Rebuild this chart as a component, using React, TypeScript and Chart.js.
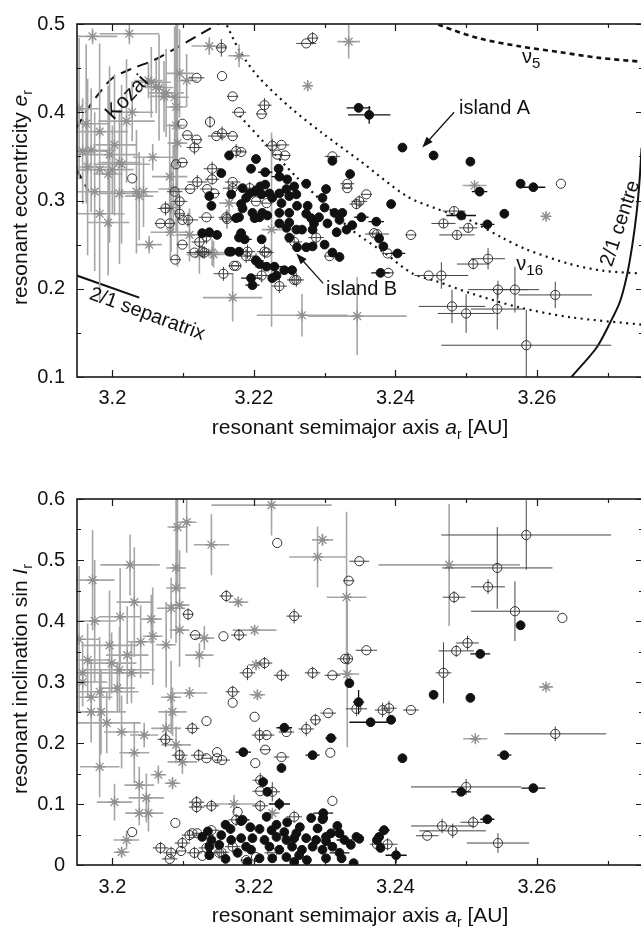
import React, { useEffect, useRef } from 'react';
import { Chart, registerables } from 'chart.js';
Chart.register(...registerables);

// ---------------- axis ticks ----------------
const xTicks = [3.2, 3.22, 3.24, 3.26];
const xTickLabels = ['3.2', '3.22', '3.24', '3.26'];
const xMinorTicks = [3.2, 3.21, 3.22, 3.23, 3.24, 3.25, 3.26, 3.27];
const eTicks = [0.1, 0.2, 0.3, 0.4, 0.5];
const eTickLabels = ['0.1', '0.2', '0.3', '0.4', '0.5'];
const eMinorTicks = [0.1, 0.15, 0.2, 0.25, 0.3, 0.35, 0.4, 0.45, 0.5];
const iTicks = [0, 0.1, 0.2, 0.3, 0.4, 0.5, 0.6];
const iTickLabels = ['0', '0.1', '0.2', '0.3', '0.4', '0.5', '0.6'];
const iMinorTicks = [0, 0.05, 0.1, 0.15, 0.2, 0.25, 0.3, 0.35, 0.4, 0.45, 0.5, 0.55, 0.6];

// ---------------- curves (top panel) ----------------
const kozaiA = [3.1949, 3.1965, 3.1982, 3.2000, 3.2028, 3.2057, 3.2090, 3.2123, 3.2158];
const kozaiE = [0.3816, 0.4036, 0.4222, 0.4386, 0.4496, 0.4584, 0.4726, 0.4879, 0.5040];
const kozaiLowA = [3.1949, 3.1957, 3.1966];
const kozaiLowE = [0.336, 0.324, 0.311];
const nu5A = [3.2450, 3.2462, 3.2519, 3.2575, 3.2632, 3.2688, 3.2752];
const nu5E = [0.5050, 0.4989, 0.4836, 0.4748, 0.4682, 0.4616, 0.4570];
const nu16UpA = [3.2158, 3.2180, 3.2208, 3.2254, 3.2297, 3.2349, 3.2416, 3.2458, 3.2505, 3.2551, 3.2585, 3.2646, 3.2693, 3.2752];
const nu16UpE = [0.5050, 0.4693, 0.4386, 0.4036, 0.3762, 0.3455, 0.3049, 0.2907, 0.2775, 0.2578, 0.2447, 0.2282, 0.2205, 0.2170];
const nu16LowA = [3.2180, 3.2215, 3.2260, 3.2293, 3.2335, 3.2387, 3.2424, 3.2458, 3.2505, 3.2575, 3.2646, 3.2752];
const nu16LowE = [0.3959, 0.3652, 0.3268, 0.3016, 0.2688, 0.2392, 0.2173, 0.2085, 0.1953, 0.1789, 0.1679, 0.1590];
const centreA = [3.2645, 3.2649, 3.2684, 3.2702, 3.2717, 3.2727, 3.2735, 3.2741, 3.2745, 3.2748];
const centreE = [0.095, 0.1, 0.1329, 0.1592, 0.1844, 0.2140, 0.2501, 0.2863, 0.3214, 0.3597];
const sepA = [3.1949, 3.2038];
const sepE = [0.2151, 0.1899];

// ---------------- top panel points: [a, e, da, de] ----------------
const topStars = [
  [3.1972, 0.486, 0.0035, 0.009], [3.2024, 0.489, 0.0042, 0.012], [3.2137, 0.475, 0.0025, 0.010],
  [3.2179, 0.464, 0.0015, 0.013], [3.2276, 0.430, 0.0007, 0.006], [3.2095, 0.444, 0.0020, 0.050],
  [3.2105, 0.436, 0.0015, 0.030], [3.2055, 0.434, 0.0028, 0.040], [3.2066, 0.428, 0.0020, 0.060],
  [3.2076, 0.422, 0.0025, 0.050], [3.2088, 0.417, 0.0020, 0.080], [3.2028, 0.400, 0.0030, 0.033],
  [3.2020, 0.390, 0.0040, 0.070], [3.1982, 0.378, 0.0040, 0.100], [3.1963, 0.387, 0.0030, 0.090],
  [3.1958, 0.356, 0.0035, 0.060], [3.2003, 0.363, 0.0030, 0.080], [3.1996, 0.352, 0.0042, 0.100],
  [3.2057, 0.349, 0.0028, 0.015], [3.2010, 0.343, 0.0030, 0.060], [3.2000, 0.335, 0.0030, 0.050],
  [3.1965, 0.338, 0.0028, 0.100], [3.1982, 0.335, 0.0040, 0.080], [3.2034, 0.310, 0.0025, 0.070],
  [3.2038, 0.305, 0.0020, 0.050], [3.2090, 0.406, 0.0014, 0.100], [3.2090, 0.385, 0.0014, 0.120],
  [3.2092, 0.365, 0.0014, 0.140], [3.2081, 0.327, 0.0025, 0.060], [3.1970, 0.357, 0.0035, 0.070],
  [3.2013, 0.341, 0.0040, 0.090], [3.1994, 0.330, 0.0021, 0.100], [3.2010, 0.308, 0.0028, 0.080],
  [3.2044, 0.310, 0.0021, 0.040], [3.1982, 0.285, 0.0035, 0.100], [3.1994, 0.275, 0.0030, 0.060],
  [3.2052, 0.250, 0.0018, 0.010], [3.2073, 0.418, 0.0020, 0.040], [3.2062, 0.429, 0.0014, 0.030],
  [3.2051, 0.436, 0.0020, 0.020], [3.2086, 0.313, 0.0021, 0.050], [3.2083, 0.292, 0.0014, 0.050],
  [3.2082, 0.264, 0.0028, 0.030], [3.2143, 0.239, 0.0020, 0.015], [3.2109, 0.261, 0.0020, 0.030],
  [3.2123, 0.239, 0.0018, 0.022], [3.2141, 0.241, 0.0020, 0.015], [3.2170, 0.190, 0.0042, 0.027],
  [3.2268, 0.170, 0.0064, 0.024], [3.2346, 0.169, 0.0070, 0.044], [3.2225, 0.267, 0.0014, 0.110],
  [3.2334, 0.480, 0.0016, 0.019], [3.2512, 0.317, 0.0017, 0.004], [3.2613, 0.282, 0.0007, 0.004],
  [3.1953, 0.404, 0.0030, 0.080], [3.1975, 0.310, 0.0030, 0.090], [3.2165, 0.297, 0.0014, 0.020],
];

const topOpen = [
  [3.2154, 0.473, 0.0008, 0.010], [3.2274, 0.478, 0.0014, 0], [3.2283, 0.484, 0.0008, 0.007],
  [3.2119, 0.439, 0.0011, 0], [3.2155, 0.441, 0, 0], [3.2170, 0.418, 0.0008, 0],
  [3.2179, 0.400, 0.0010, 0], [3.2215, 0.408, 0.0010, 0.008], [3.2211, 0.398, 0.0008, 0],
  [3.2138, 0.389, 0, 0.007], [3.2099, 0.387, 0, 0], [3.2106, 0.374, 0.0008, 0],
  [3.2119, 0.369, 0.0008, 0], [3.2116, 0.360, 0.0011, 0.008], [3.2147, 0.373, 0.0012, 0],
  [3.2170, 0.373, 0.0008, 0], [3.2155, 0.376, 0.0012, 0.008], [3.2175, 0.356, 0.0011, 0.008],
  [3.2182, 0.355, 0.0008, 0], [3.2226, 0.362, 0.0011, 0.008], [3.2239, 0.363, 0.0011, 0],
  [3.2233, 0.352, 0.0008, 0], [3.2244, 0.351, 0.0008, 0], [3.2028, 0.325, 0, 0],
  [3.2099, 0.343, 0.0008, 0], [3.2090, 0.341, 0, 0], [3.2141, 0.336, 0.0012, 0.008],
  [3.2170, 0.321, 0.0011, 0], [3.2120, 0.321, 0.0014, 0.008], [3.2141, 0.324, 0.0010, 0.006],
  [3.2088, 0.310, 0.0011, 0], [3.2110, 0.313, 0.0008, 0], [3.2134, 0.313, 0.0010, 0],
  [3.2170, 0.314, 0.0014, 0.008], [3.2095, 0.299, 0.0011, 0.008], [3.2075, 0.291, 0.0011, 0.008],
  [3.2081, 0.274, 0.0008, 0], [3.2068, 0.274, 0.0008, 0], [3.2095, 0.285, 0.0008, 0.007],
  [3.2107, 0.278, 0.0014, 0.008], [3.2133, 0.281, 0.0011, 0], [3.2162, 0.279, 0.0011, 0.011],
  [3.2123, 0.253, 0.0011, 0.007], [3.2133, 0.259, 0.0011, 0.008], [3.2099, 0.250, 0.0008, 0],
  [3.2116, 0.241, 0.0011, 0], [3.2130, 0.241, 0.0011, 0.007], [3.2089, 0.233, 0.0008, 0],
  [3.2157, 0.217, 0.0014, 0.008], [3.2172, 0.226, 0.0008, 0], [3.2189, 0.237, 0.0012, 0.008],
  [3.2211, 0.215, 0.0014, 0.008], [3.2218, 0.241, 0.0010, 0], [3.2236, 0.203, 0.0011, 0.008],
  [3.2257, 0.210, 0.0010, 0.006], [3.2203, 0.232, 0.0011, 0.008], [3.2311, 0.350, 0.0011, 0],
  [3.2194, 0.314, 0.0011, 0.007], [3.2144, 0.308, 0.0008, 0], [3.2203, 0.299, 0.0008, 0],
  [3.2218, 0.297, 0.0008, 0], [3.2332, 0.319, 0.0010, 0], [3.2332, 0.314, 0.0008, 0],
  [3.2359, 0.307, 0.0008, 0], [3.2349, 0.299, 0.0011, 0.007], [3.2345, 0.296, 0.0010, 0.006],
  [3.2099, 0.278, 0, 0], [3.2161, 0.281, 0.0011, 0.007], [3.2127, 0.242, 0.0010, 0.007],
  [3.2191, 0.242, 0.0011, 0.008], [3.2215, 0.242, 0.0011, 0.008], [3.2257, 0.253, 0.0011, 0.008],
  [3.2288, 0.258, 0.0011, 0.008], [3.2307, 0.237, 0.0008, 0], [3.2175, 0.226, 0.0008, 0],
  [3.2260, 0.210, 0.0011, 0.008], [3.2370, 0.263, 0.0008, 0], [3.2634, 0.319, 0, 0],
  [3.2483, 0.288, 0.0016, 0.005], [3.2468, 0.274, 0.0017, 0.005], [3.2503, 0.269, 0.0013, 0.005],
  [3.2487, 0.261, 0.0025, 0.005], [3.2531, 0.234, 0.0024, 0.012], [3.2510, 0.228, 0.0023, 0.006],
  [3.2465, 0.215, 0.0038, 0.015], [3.2447, 0.215, 0.0014, 0], [3.2545, 0.199, 0.0042, 0.010],
  [3.2569, 0.199, 0.0034, 0.026], [3.2626, 0.193, 0.0052, 0.015], [3.2480, 0.180, 0.0047, 0.019],
  [3.2500, 0.172, 0.0040, 0.022], [3.2544, 0.177, 0.0037, 0.023], [3.2585, 0.136, 0.0120, 0.040],
  [3.2390, 0.218, 0.0008, 0], [3.2389, 0.240, 0.0008, 0], [3.2374, 0.262, 0.0017, 0.005],
  [3.2422, 0.261, 0.0008, 0],
];

const topBlack = [
  [3.2348, 0.405, 0.0017, 0], [3.2363, 0.397, 0.0030, 0.010], [3.2410, 0.360, 0, 0],
  [3.2454, 0.351, 0, 0], [3.2506, 0.344, 0, 0], [3.2577, 0.319, 0, 0],
  [3.2595, 0.315, 0.0017, 0], [3.2519, 0.310, 0.0011, 0.005], [3.2554, 0.285, 0, 0],
  [3.2530, 0.273, 0.0010, 0], [3.2493, 0.283, 0.0021, 0], [3.2379, 0.218, 0.0013, 0],
  [3.2403, 0.240, 0.0011, 0], [3.2383, 0.248, 0, 0], [3.2377, 0.257, 0, 0],
  [3.2373, 0.276, 0.0011, 0], [3.2394, 0.296, 0, 0], [3.2165, 0.351, 0, 0],
  [3.2203, 0.347, 0, 0], [3.2196, 0.336, 0, 0], [3.2216, 0.332, 0.0010, 0],
  [3.2235, 0.336, 0, 0], [3.2236, 0.327, 0.0011, 0], [3.2247, 0.324, 0, 0],
  [3.2274, 0.319, 0, 0], [3.2336, 0.330, 0, 0], [3.2302, 0.313, 0, 0],
  [3.2209, 0.316, 0.0010, 0], [3.2216, 0.318, 0, 0], [3.2201, 0.310, 0, 0],
  [3.2194, 0.308, 0, 0], [3.2184, 0.314, 0, 0], [3.2211, 0.307, 0, 0],
  [3.2222, 0.308, 0, 0], [3.2236, 0.308, 0, 0], [3.2246, 0.313, 0, 0],
  [3.2257, 0.316, 0, 0], [3.2226, 0.303, 0, 0], [3.2250, 0.305, 0, 0],
  [3.2260, 0.307, 0, 0], [3.2137, 0.305, 0, 0], [3.2168, 0.307, 0, 0],
  [3.2189, 0.303, 0, 0], [3.2297, 0.303, 0, 0], [3.2239, 0.297, 0, 0],
  [3.2261, 0.294, 0, 0], [3.2276, 0.294, 0, 0], [3.2140, 0.294, 0, 0],
  [3.2182, 0.296, 0, 0], [3.2184, 0.291, 0, 0], [3.2198, 0.286, 0, 0],
  [3.2212, 0.286, 0, 0], [3.2219, 0.283, 0, 0], [3.2208, 0.281, 0, 0],
  [3.2201, 0.280, 0, 0], [3.2179, 0.281, 0, 0], [3.2175, 0.280, 0, 0],
  [3.2236, 0.286, 0, 0], [3.2250, 0.286, 0, 0], [3.2274, 0.285, 0, 0],
  [3.2281, 0.280, 0, 0], [3.2292, 0.281, 0, 0], [3.2300, 0.292, 0, 0],
  [3.2314, 0.286, 0, 0], [3.2325, 0.286, 0, 0], [3.2352, 0.281, 0.0010, 0],
  [3.2321, 0.278, 0, 0], [3.2304, 0.274, 0, 0], [3.2285, 0.274, 0, 0],
  [3.2236, 0.274, 0, 0], [3.2250, 0.275, 0, 0], [3.2246, 0.269, 0, 0],
  [3.2260, 0.267, 0, 0], [3.2268, 0.267, 0, 0], [3.2283, 0.267, 0, 0],
  [3.2317, 0.264, 0, 0], [3.2331, 0.267, 0, 0], [3.2339, 0.272, 0, 0],
  [3.2137, 0.264, 0, 0], [3.2127, 0.263, 0, 0], [3.2148, 0.261, 0, 0],
  [3.2182, 0.263, 0, 0], [3.2250, 0.258, 0, 0], [3.2261, 0.247, 0, 0],
  [3.2274, 0.247, 0, 0], [3.2283, 0.248, 0, 0], [3.2300, 0.250, 0, 0],
  [3.2311, 0.241, 0, 0], [3.2321, 0.236, 0, 0], [3.2187, 0.256, 0.0010, 0],
  [3.2211, 0.256, 0, 0], [3.2168, 0.242, 0.0008, 0], [3.2179, 0.242, 0, 0],
  [3.2203, 0.232, 0, 0], [3.2208, 0.228, 0, 0], [3.2218, 0.225, 0, 0],
  [3.2229, 0.225, 0.0011, 0], [3.2243, 0.221, 0, 0], [3.2254, 0.221, 0, 0],
  [3.2232, 0.215, 0, 0], [3.2226, 0.212, 0, 0], [3.2196, 0.212, 0.0014, 0],
  [3.2198, 0.204, 0.0010, 0], [3.2154, 0.331, 0, 0], [3.2165, 0.242, 0, 0],
  [3.2179, 0.258, 0, 0], [3.2311, 0.345, 0, 0],
];

// ---------------- bottom panel points: [a, sinI, da, dsinI] ----------------
const botStars = [
  [3.1972, 0.467, 0.0031, 0.082], [3.2025, 0.492, 0.0042, 0.050], [3.2031, 0.431, 0.0025, 0.090],
  [3.2011, 0.407, 0.0030, 0.080], [3.2055, 0.403, 0.0015, 0.040], [3.2057, 0.375, 0.0014, 0.080],
  [3.2040, 0.366, 0.0020, 0.060], [3.2076, 0.361, 0.0014, 0.070], [3.2090, 0.454, 0.0014, 0.090],
  [3.2090, 0.487, 0.0014, 0.120], [3.2092, 0.554, 0.0014, 0.100], [3.2105, 0.562, 0.0014, 0.050],
  [3.2095, 0.426, 0.0014, 0.090], [3.2083, 0.421, 0.0020, 0.050], [3.2095, 0.385, 0.0014, 0.060],
  [3.2140, 0.525, 0.0025, 0.050], [3.2178, 0.431, 0.0014, 0.008], [3.2201, 0.385, 0.0031, 0.008],
  [3.2130, 0.372, 0.0014, 0.020], [3.2225, 0.590, 0.0085, 0.050], [3.2290, 0.505, 0.0040, 0.050],
  [3.2476, 0.492, 0.0100, 0.100], [3.2331, 0.439, 0.0028, 0.140], [3.2297, 0.533, 0.0015, 0.010],
  [3.2332, 0.313, 0.0017, 0.120], [3.2613, 0.292, 0.0010, 0.005], [3.2513, 0.207, 0.0017, 0.005],
  [3.1965, 0.336, 0.0030, 0.060], [3.1958, 0.315, 0.0045, 0.050], [3.1958, 0.300, 0.0035, 0.040],
  [3.1999, 0.331, 0.0035, 0.050], [3.2010, 0.320, 0.0050, 0.070], [3.2027, 0.315, 0.0025, 0.050],
  [3.1970, 0.275, 0.0030, 0.060], [3.1982, 0.284, 0.0055, 0.090], [3.2007, 0.290, 0.0025, 0.040],
  [3.1970, 0.251, 0.0030, 0.050], [3.1984, 0.251, 0.0035, 0.070], [3.1992, 0.233, 0.0048, 0.050],
  [3.2013, 0.218, 0.0025, 0.060], [3.1982, 0.161, 0.0028, 0.050], [3.2031, 0.184, 0.0021, 0.050],
  [3.2045, 0.213, 0.0020, 0.020], [3.2038, 0.131, 0.0021, 0.030], [3.2048, 0.110, 0.0025, 0.040],
  [3.2038, 0.085, 0.0020, 0.020], [3.2051, 0.085, 0.0021, 0.030], [3.2003, 0.103, 0.0025, 0.030],
  [3.2065, 0.148, 0.0011, 0.015], [3.2083, 0.275, 0.0014, 0.060], [3.2076, 0.224, 0.0021, 0.030],
  [3.2085, 0.251, 0.0020, 0.040], [3.2090, 0.197, 0.0021, 0.030], [3.2099, 0.169, 0.0021, 0.020],
  [3.2085, 0.134, 0.0011, 0.010], [3.2109, 0.282, 0.0025, 0.010], [3.2123, 0.344, 0.0020, 0.020],
  [3.2020, 0.041, 0.0018, 0.015], [3.2013, 0.021, 0.0011, 0.008], [3.2172, 0.100, 0.0035, 0.015],
  [3.2205, 0.279, 0.0011, 0.008], [3.2203, 0.328, 0.0011, 0.008], [3.2226, 0.085, 0.0010, 0.005],
  [3.1975, 0.400, 0.0030, 0.100], [3.1953, 0.370, 0.0030, 0.120], [3.1996, 0.360, 0.0040, 0.090],
  [3.2021, 0.344, 0.0030, 0.080],
];

const botOpen = [
  [3.2233, 0.528, 0, 0], [3.2161, 0.441, 0.0010, 0.010], [3.2107, 0.411, 0.0008, 0.010],
  [3.2117, 0.377, 0.0008, 0], [3.2157, 0.375, 0, 0], [3.2179, 0.377, 0.0011, 0.010],
  [3.2257, 0.408, 0.0011, 0.012], [3.2585, 0.541, 0.0120, 0.057], [3.2544, 0.487, 0.0078, 0.067],
  [3.2531, 0.456, 0.0024, 0.012], [3.2349, 0.498, 0.0014, 0], [3.2334, 0.466, 0.0008, 0],
  [3.2483, 0.439, 0.0016, 0.010], [3.2569, 0.416, 0.0062, 0.049], [3.2636, 0.405, 0, 0],
  [3.2502, 0.364, 0.0016, 0.012], [3.2486, 0.351, 0.0025, 0.010], [3.2359, 0.352, 0.0015, 0],
  [3.2329, 0.338, 0.0011, 0], [3.2333, 0.338, 0, 0.010], [3.2311, 0.311, 0.0011, 0],
  [3.2468, 0.315, 0.0011, 0.050], [3.2345, 0.256, 0.0015, 0.012], [3.2382, 0.254, 0.0011, 0.012],
  [3.2391, 0.257, 0.0011, 0.012], [3.2422, 0.254, 0.0011, 0], [3.2305, 0.249, 0.0011, 0],
  [3.2626, 0.215, 0.0072, 0.012], [3.2308, 0.184, 0, 0], [3.2500, 0.128, 0.0078, 0.013],
  [3.2311, 0.105, 0, 0], [3.2466, 0.064, 0.0044, 0.012], [3.2481, 0.056, 0.0047, 0.012],
  [3.2510, 0.070, 0.0018, 0.010], [3.2445, 0.048, 0.0016, 0], [3.2545, 0.036, 0.0044, 0.016],
  [3.2389, 0.034, 0.0014, 0.010], [3.2374, 0.034, 0.0010, 0], [3.2191, 0.315, 0.0011, 0.012],
  [3.2215, 0.331, 0.0011, 0.010], [3.2239, 0.311, 0.0011, 0.010], [3.2283, 0.315, 0.0011, 0.010],
  [3.2170, 0.284, 0.0010, 0.010], [3.2170, 0.266, 0, 0], [3.2133, 0.236, 0, 0],
  [3.2113, 0.224, 0.0010, 0.010], [3.2201, 0.243, 0, 0], [3.2075, 0.206, 0.0011, 0.012],
  [3.2095, 0.180, 0.0011, 0.010], [3.2122, 0.180, 0.0011, 0.010], [3.2133, 0.175, 0.0008, 0],
  [3.2148, 0.185, 0, 0], [3.2155, 0.172, 0.0011, 0], [3.2148, 0.175, 0, 0],
  [3.2208, 0.213, 0.0011, 0.012], [3.2218, 0.213, 0.0011, 0], [3.2216, 0.189, 0.0008, 0],
  [3.2202, 0.167, 0, 0], [3.2239, 0.177, 0.0011, 0], [3.2246, 0.218, 0.0011, 0],
  [3.2274, 0.223, 0.0011, 0.012], [3.2287, 0.238, 0.0008, 0.010], [3.2209, 0.139, 0.0011, 0.012],
  [3.2209, 0.121, 0.0011, 0], [3.2226, 0.120, 0.0011, 0.016], [3.2209, 0.097, 0.0011, 0.010],
  [3.2119, 0.103, 0.0011, 0.010], [3.2119, 0.095, 0.0011, 0.010], [3.2140, 0.097, 0.0011, 0.010],
  [3.2177, 0.087, 0, 0], [3.2175, 0.074, 0.0011, 0.010], [3.2257, 0.079, 0.0011, 0.010],
  [3.2089, 0.069, 0, 0], [3.2028, 0.054, 0, 0], [3.2068, 0.028, 0.0011, 0.010],
  [3.2081, 0.010, 0.0011, 0], [3.2099, 0.036, 0.0011, 0.010], [3.2097, 0.023, 0.0008, 0],
  [3.2109, 0.049, 0.0011, 0.010], [3.2120, 0.052, 0.0008, 0], [3.2140, 0.057, 0.0011, 0],
  [3.2083, 0.020, 0.0011, 0.010], [3.2116, 0.020, 0.0011, 0.010], [3.2127, 0.015, 0, 0],
  [3.2151, 0.020, 0.0011, 0.010], [3.2170, 0.030, 0.0011, 0.010], [3.2189, 0.008, 0.0008, 0],
  [3.2203, 0.013, 0, 0], [3.2226, 0.020, 0.0011, 0], [3.2113, 0.052, 0, 0],
  [3.2154, 0.021, 0.0011, 0.010], [3.2133, 0.028, 0.0011, 0.010],
];

const botBlack = [
  [3.2577, 0.393, 0, 0], [3.2520, 0.346, 0.0014, 0], [3.2335, 0.298, 0, 0],
  [3.2454, 0.279, 0, 0], [3.2506, 0.274, 0, 0], [3.2348, 0.267, 0.0008, 0.020],
  [3.2365, 0.234, 0.0030, 0], [3.2394, 0.238, 0, 0], [3.2309, 0.208, 0.0008, 0],
  [3.2410, 0.175, 0, 0], [3.2554, 0.180, 0.0010, 0], [3.2493, 0.120, 0.0014, 0],
  [3.2595, 0.126, 0.0017, 0], [3.2530, 0.075, 0.0010, 0], [3.2401, 0.016, 0.0015, 0.013],
  [3.2384, 0.057, 0.0008, 0.008], [3.2377, 0.046, 0, 0], [3.2374, 0.041, 0, 0],
  [3.2379, 0.028, 0, 0], [3.2345, 0.046, 0, 0], [3.2349, 0.043, 0, 0],
  [3.2328, 0.041, 0.0011, 0], [3.2321, 0.052, 0, 0], [3.2309, 0.052, 0, 0],
  [3.2302, 0.039, 0, 0], [3.2298, 0.085, 0.0014, 0], [3.2298, 0.077, 0, 0],
  [3.2341, 0.003, 0, 0], [3.2321, 0.020, 0.0014, 0], [3.2302, 0.011, 0, 0],
  [3.2324, 0.011, 0, 0], [3.2297, 0.025, 0, 0], [3.2185, 0.185, 0.0011, 0],
  [3.2243, 0.225, 0.0011, 0], [3.2239, 0.159, 0, 0], [3.2213, 0.136, 0, 0],
  [3.2219, 0.120, 0, 0], [3.2236, 0.100, 0.0015, 0.010], [3.2182, 0.072, 0, 0],
  [3.2218, 0.079, 0, 0], [3.2283, 0.180, 0.0010, 0], [3.2281, 0.077, 0, 0],
  [3.2297, 0.075, 0, 0], [3.2247, 0.070, 0, 0], [3.2232, 0.066, 0, 0],
  [3.2208, 0.059, 0, 0], [3.2167, 0.059, 0, 0], [3.2243, 0.054, 0, 0],
  [3.2260, 0.052, 0, 0], [3.2127, 0.046, 0, 0], [3.2140, 0.041, 0, 0],
  [3.2154, 0.049, 0, 0], [3.2168, 0.041, 0, 0], [3.2182, 0.044, 0, 0],
  [3.2198, 0.044, 0, 0], [3.2215, 0.041, 0, 0], [3.2232, 0.046, 0, 0],
  [3.2246, 0.041, 0, 0], [3.2257, 0.044, 0, 0], [3.2274, 0.044, 0, 0],
  [3.2288, 0.041, 0, 0], [3.2302, 0.046, 0, 0], [3.2137, 0.030, 0, 0],
  [3.2151, 0.033, 0, 0], [3.2189, 0.030, 0, 0], [3.2196, 0.025, 0, 0],
  [3.2222, 0.030, 0, 0], [3.2236, 0.025, 0, 0], [3.2254, 0.030, 0, 0],
  [3.2268, 0.025, 0, 0], [3.2283, 0.030, 0, 0], [3.2137, 0.016, 0, 0],
  [3.2177, 0.020, 0, 0], [3.2208, 0.011, 0, 0], [3.2226, 0.011, 0, 0],
  [3.2246, 0.013, 0, 0], [3.2264, 0.016, 0, 0], [3.2191, 0.005, 0, 0],
  [3.2257, 0.005, 0, 0], [3.2184, 0.074, 0.0010, 0],
  [3.2195, 0.062, 0, 0], [3.2225, 0.057, 0, 0], [3.2265, 0.062, 0, 0],
  [3.2160, 0.066, 0, 0], [3.2290, 0.060, 0, 0], [3.2318, 0.064, 0, 0],
  [3.2135, 0.055, 0, 0], [3.2337, 0.033, 0, 0], [3.2160, 0.010, 0, 0],
  [3.2275, 0.008, 0, 0], [3.2311, 0.030, 0, 0],
];

// ---------------- rendering helpers ----------------
const FONT = "'Liberation Sans', Arial, Helvetica, sans-serif";
const fnt = (size: number, style = '') => `${style} ${size}px ${FONT}`.trim();
const TEXT = '#111';

const toPts = (arr: number[][]) => arr.map((p) => ({ x: p[0], y: p[1] }));
const toErrs = (arr: number[][]) => arr.map((p) => [p[2] || 0, p[3] || 0]);
const curve = (xs: number[], ys: number[]) => xs.map((x, i) => ({ x, y: ys[i] }));
const isIn = (v: number, list: number[]) => list.some((t) => Math.abs(t - v) < 1e-9);

function drawRich(ctx: any, parts: any[], x: number, y: number, align: string, baseline = 'alphabetic') {
  ctx.textBaseline = baseline;
  ctx.textAlign = 'left';
  let total = 0;
  for (const p of parts) { ctx.font = p.font; total += ctx.measureText(p.text).width; }
  let cx = align === 'center' ? x - total / 2 : x;
  for (const p of parts) {
    ctx.font = p.font;
    ctx.fillText(p.text, cx, y + (p.dy || 0));
    cx += ctx.measureText(p.text).width;
  }
}

const xTitle = [
  { text: 'resonant semimajor axis ', font: fnt(21) },
  { text: 'a', font: fnt(21, 'italic') },
  { text: 'r', font: fnt(14), dy: 5 },
  { text: ' [AU]', font: fnt(21) },
];

function panelPlugin(spec: any) {
  return {
    id: 'panel' + spec.name,
    beforeDatasetDraw(chart: any, args: any) {
      const ds = chart.data.datasets[args.index];
      if (!ds.errs) return;
      const { ctx, chartArea: a, scales } = chart;
      const xs = scales.x, ys = scales.y;
      ctx.save();
      ctx.beginPath();
      ctx.rect(a.left, a.top, a.right - a.left, a.bottom - a.top);
      ctx.clip();
      ctx.strokeStyle = ds.errColor;
      ctx.lineWidth = ds.errWidth;
      ctx.beginPath();
      ds.data.forEach((p: any, i: number) => {
        const [dx, dy] = ds.errs[i];
        const px = xs.getPixelForValue(p.x), py = ys.getPixelForValue(p.y);
        if (dx > 0) { ctx.moveTo(xs.getPixelForValue(p.x - dx), py); ctx.lineTo(xs.getPixelForValue(p.x + dx), py); }
        if (dy > 0) { ctx.moveTo(px, ys.getPixelForValue(p.y - dy)); ctx.lineTo(px, ys.getPixelForValue(p.y + dy)); }
      });
      ctx.stroke();
      ctx.restore();
    },
    afterDraw(chart: any) {
      const { ctx, chartArea: a, scales } = chart;
      const xs = scales.x, ys = scales.y;
      ctx.save();
      ctx.strokeStyle = '#1a1a1a';
      ctx.lineWidth = 1.2;
      ctx.beginPath();
      for (const v of xMinorTicks) {
        const px = Math.round(xs.getPixelForValue(v)) + 0.5;
        const L = isIn(v, xTicks) ? 7 : 4;
        ctx.moveTo(px, a.bottom); ctx.lineTo(px, a.bottom - L);
        ctx.moveTo(px, a.top); ctx.lineTo(px, a.top + L);
      }
      for (const v of spec.yMinor) {
        const py = Math.round(ys.getPixelForValue(v)) + 0.5;
        const L = isIn(v, spec.yTicks) ? 7 : 4;
        ctx.moveTo(a.left, py); ctx.lineTo(a.left + L, py);
        ctx.moveTo(a.right, py); ctx.lineTo(a.right - L, py);
      }
      ctx.stroke();
      ctx.lineWidth = 1.6;
      ctx.strokeRect(a.left, a.top, a.right - a.left, a.bottom - a.top);

      ctx.fillStyle = TEXT;
      drawRich(ctx, xTitle, (a.left + a.right) / 2, a.bottom + 57, 'center');
      ctx.save();
      ctx.translate(27, (a.top + a.bottom) / 2 - 3);
      ctx.rotate(-Math.PI / 2);
      drawRich(ctx, spec.yTitle, 0, 0, 'center');
      ctx.restore();

      // annotations
      for (const l of spec.labels) {
        ctx.save();
        ctx.translate(xs.getPixelForValue(l.x), ys.getPixelForValue(l.y));
        ctx.rotate(((l.rot || 0) * Math.PI) / 180);
        drawRich(ctx, l.parts, 0, 0, l.align || 'left', l.baseline || 'alphabetic');
        ctx.restore();
      }
      for (const ar of spec.arrows) {
        const x1 = xs.getPixelForValue(ar.x1), y1 = ys.getPixelForValue(ar.y1);
        const x2 = xs.getPixelForValue(ar.x2), y2 = ys.getPixelForValue(ar.y2);
        const ang = Math.atan2(y2 - y1, x2 - x1);
        const L = 11, W = 4;
        ctx.strokeStyle = TEXT;
        ctx.lineWidth = 1.2;
        ctx.beginPath();
        ctx.moveTo(x1, y1);
        ctx.lineTo(x2 - Math.cos(ang) * L * 0.8, y2 - Math.sin(ang) * L * 0.8);
        ctx.stroke();
        ctx.beginPath();
        ctx.moveTo(x2, y2);
        ctx.lineTo(x2 - Math.cos(ang) * L - Math.sin(ang) * W, y2 - Math.sin(ang) * L + Math.cos(ang) * W);
        ctx.lineTo(x2 - Math.cos(ang) * L + Math.sin(ang) * W, y2 - Math.sin(ang) * L - Math.cos(ang) * W);
        ctx.closePath();
        ctx.fill();
      }
      ctx.restore();
    },
  };
}

function buildConfig(spec: any): any {
  const datasets: any[] = [];
  for (const c of spec.curves) {
    datasets.push({
      type: 'scatter', data: c.data, showLine: true, pointRadius: 0, borderColor: '#111',
      borderWidth: c.width, borderDash: c.dash, tension: 0.3, fill: false, order: 4,
      borderCapStyle: c.cap || 'butt',
    });
  }
  datasets.push({
    data: toPts(spec.stars), errs: toErrs(spec.stars), errColor: '#a6a6a6', errWidth: 1.6,
    pointStyle: 'star', pointRadius: 5.5, borderColor: '#8f8f8f', borderWidth: 1.3,
    backgroundColor: 'rgba(0,0,0,0)', order: 3,
  });
  datasets.push({
    data: toPts(spec.open), errs: toErrs(spec.open), errColor: '#444', errWidth: 1,
    pointStyle: 'circle', pointRadius: 4.6, borderColor: '#333', borderWidth: 1,
    backgroundColor: 'rgba(0,0,0,0)', order: 2,
  });
  datasets.push({
    data: toPts(spec.black), errs: toErrs(spec.black), errColor: '#111', errWidth: 1.3,
    pointStyle: 'circle', pointRadius: 4.4, borderColor: '#111', borderWidth: 1,
    backgroundColor: '#111', order: 1,
  });
  return {
    type: 'scatter',
    data: { datasets },
    options: {
      responsive: false,
      animation: false,
      devicePixelRatio: 1,
      events: [],
      layout: { padding: { left: 0, top: spec.padTop, right: 17, bottom: 0 } },
      plugins: { legend: { display: false }, tooltip: { enabled: false }, title: { display: false } },
      scales: {
        x: {
          type: 'linear', position: 'bottom', min: 3.195, max: 3.275,
          afterBuildTicks: (s: any) => { s.ticks = xTicks.map((v) => ({ value: v })); },
          afterFit: (s: any) => { s.height = spec.xAxisH; },
          grid: { display: false, drawTicks: false }, border: { display: false },
          ticks: {
            autoSkip: false, maxRotation: 0, padding: spec.xPad, color: TEXT,
            font: { size: 20, family: FONT },
            callback: (_v: any, i: number) => xTickLabels[i],
          },
        },
        y: {
          type: 'linear', position: 'left', min: spec.yMin, max: spec.yMax,
          afterBuildTicks: (s: any) => { s.ticks = spec.yTicks.map((v: number) => ({ value: v })); },
          afterFit: (s: any) => { s.width = 77; },
          grid: { display: false, drawTicks: false }, border: { display: false },
          ticks: {
            autoSkip: false, padding: 12, color: TEXT, font: { size: 20, family: FONT },
            callback: (_v: any, i: number) => spec.yTickLabels[i],
          },
        },
      },
    },
    plugins: [panelPlugin(spec)],
  };
}

const topSpec = {
  name: 'top', padTop: 12, xAxisH: 88, xPad: 9,
  yMin: 0.1, yMax: 0.5, yTicks: eTicks, yTickLabels: eTickLabels, yMinor: eMinorTicks,
  stars: topStars, open: topOpen, black: topBlack,
  yTitle: [
    { text: 'resonant eccentricity ', font: fnt(21) },
    { text: 'e', font: fnt(21, 'italic') },
    { text: 'r', font: fnt(14), dy: 5 },
  ],
  curves: [
    { data: curve(kozaiA, kozaiE), width: 2, dash: [11, 7] },
    { data: curve(kozaiLowA, kozaiLowE), width: 2, dash: [11, 7] },
    { data: curve(nu5A, nu5E), width: 2.6, dash: [5, 4] },
    { data: curve(nu16UpA, nu16UpE), width: 2.2, dash: [2, 4.5] },
    { data: curve(nu16LowA, nu16LowE), width: 2.2, dash: [2, 4.5] },
    { data: curve(centreA, centreE), width: 2, dash: [] },
    { data: curve(sepA, sepE), width: 2, dash: [] },
  ],
  labels: [
    { x: 3.2021, y: 0.4167, rot: -47, align: 'center', baseline: 'middle', parts: [{ text: 'Kozai', font: fnt(21) }] },
    { x: 3.2579, y: 0.4560, parts: [{ text: 'ν', font: fnt(20) }, { text: '5', font: fnt(15), dy: 5 }] },
    { x: 3.2490, y: 0.398, parts: [{ text: 'island A', font: fnt(20) }] },
    { x: 3.2302, y: 0.193, parts: [{ text: 'island B', font: fnt(20) }] },
    { x: 3.2571, y: 0.2215, parts: [{ text: 'ν', font: fnt(20) }, { text: '16', font: fnt(15), dy: 5 }] },
    { x: 3.2718, y: 0.2740, rot: -72, align: 'center', baseline: 'middle', parts: [{ text: '2/1 centre', font: fnt(20) }] },
    { x: 3.2049, y: 0.1712, rot: 20, align: 'center', baseline: 'middle', parts: [{ text: '2/1 separatrix', font: fnt(20) }] },
  ],
  arrows: [
    { x1: 3.2483, y1: 0.400, x2: 3.2438, y2: 0.360 },
    { x1: 3.2298, y1: 0.206, x2: 3.2260, y2: 0.240 },
  ],
};

const botSpec = {
  name: 'bot', padTop: 34, xAxisH: 64, xPad: 10,
  yMin: 0, yMax: 0.6, yTicks: iTicks, yTickLabels: iTickLabels, yMinor: iMinorTicks,
  stars: botStars, open: botOpen, black: botBlack,
  yTitle: [
    { text: 'resonant inclination sin ', font: fnt(21) },
    { text: 'I', font: fnt(21, 'italic') },
    { text: 'r', font: fnt(14), dy: 5 },
  ],
  curves: [],
  labels: [],
  arrows: [],
};

export default function App() {
  const topRef = useRef<HTMLCanvasElement>(null);
  const botRef = useRef<HTMLCanvasElement>(null);
  useEffect(() => {
    const c1 = new Chart(topRef.current as any, buildConfig(topSpec));
    const c2 = new Chart(botRef.current as any, buildConfig(botSpec));
    return () => { c1.destroy(); c2.destroy(); };
  }, []);
  return (
    <div style={{ position: 'absolute', left: 0, top: 0, width: 641, height: 929, overflow: 'hidden', background: '#fff' }}>
      <canvas ref={topRef} width={660} height={465} style={{ position: 'absolute', left: 0, top: 0, width: 660, height: 465 }} />
      <canvas ref={botRef} width={660} height={464} style={{ position: 'absolute', left: 0, top: 465, width: 660, height: 464 }} />
    </div>
  );
}
